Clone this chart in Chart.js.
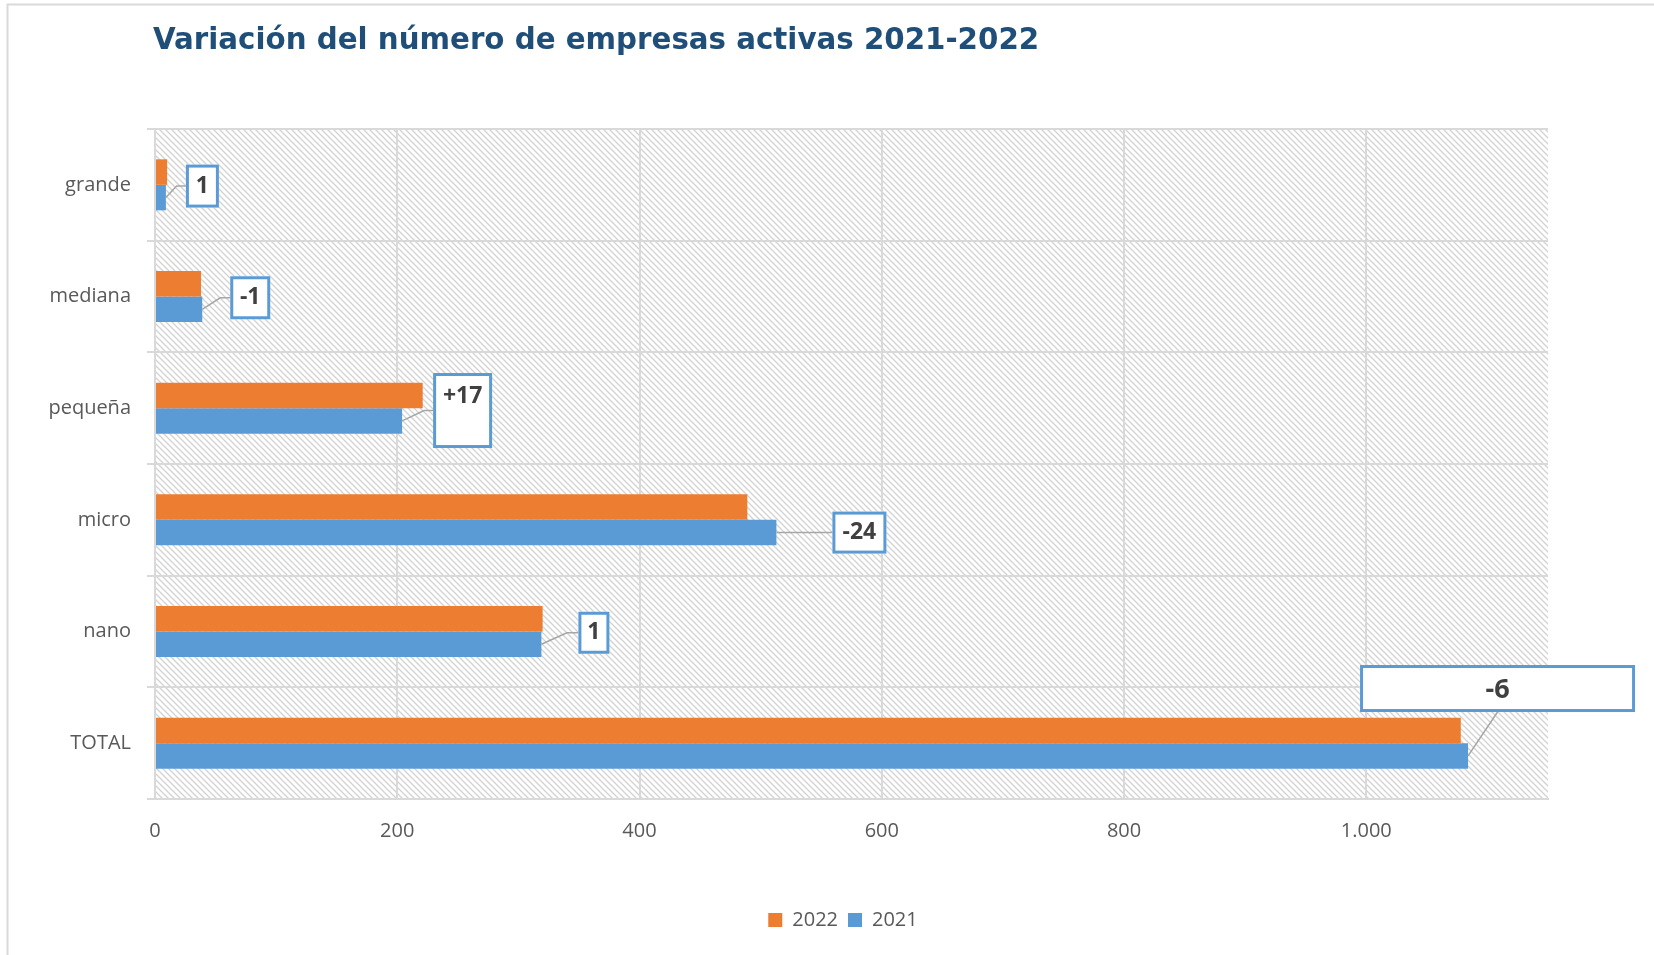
<!DOCTYPE html>
<html><head><meta charset="utf-8">
<script src="https://cdn.jsdelivr.net/npm/chart.js@4"></script>
<style>html,body{margin:0;padding:0;background:#fff}#wrap{width:1654px;height:955px;position:relative}canvas{display:block}</style>
</head><body><div id="wrap"><canvas id="c" width="1654" height="955"></canvas></div>
<script>
const categories = ['grande','mediana','pequeña','micro','nano','TOTAL'];
const values2022 = [10,38,221,489,320,1078];
const values2021 = [9,39,204,513,319,1084];
const changeLabels = ['1','-1','+17','-24','1','-6'];
const xTicks = [0,200,400,600,800,1000];
const xMax = 1150;
const titleText = 'Variación del número de empresas activas 2021-2022';

// annotation box layout relative to the end of the 2021 bar
const labelLayout = [
  {bx:20, cy:-11.5, w:33, h:43, ty:0, size:23, kink:[10.7,-11.5]},
  {bx:28, cy:-11.5, w:40, h:43, ty:0, size:23, kink:[18,-11.5]},
  {bx:31, cy:-10.4, w:59, h:75, ty:-14.5, size:23, kink:[22,-10.4]},
  {bx:56, cy:0, w:54, h:42, ty:0, size:23, kink:null},
  {bx:37, cy:-11.5, w:31, h:42, ty:0, size:23, kink:[25.5,-11.5]},
  {bx:-108, cy:-67.4, w:275, h:47, ty:2, size:27, bottomAnchor:29.5}
];

function makePattern(){
  const p = document.createElement('canvas');
  p.width = 6; p.height = 6;
  const g = p.getContext('2d');
  g.fillStyle = '#ffffff'; g.fillRect(0,0,6,6);
  g.strokeStyle = '#d2d2d2'; g.lineWidth = 1.3;
  g.beginPath();
  g.moveTo(-1,-1); g.lineTo(7,7);
  g.moveTo(-1,5); g.lineTo(1,7);
  g.moveTo(5,-1); g.lineTo(7,1);
  g.stroke();
  return p;
}

const bgPlugin = {
  id:'bg',
  afterLayout(chart){
    if (chart.legend) { chart.legend.left -= 8.5; chart.legend.right -= 8.5; }
  },
  beforeDraw(chart){
    const ctx = chart.ctx, a = chart.chartArea;
    ctx.save();
    ctx.fillStyle = '#fff'; ctx.fillRect(0,0,chart.width,chart.height);
    ctx.fillStyle = ctx.createPattern(makePattern(),'repeat');
    ctx.fillRect(a.left,a.top,a.right-a.left,a.bottom-a.top);
    // outer frame
    ctx.strokeStyle = '#d9d9d9'; ctx.lineWidth = 2;
    ctx.beginPath(); ctx.moveTo(7.5,955); ctx.lineTo(7.5,4.5); ctx.lineTo(1654,4.5); ctx.stroke();
    // title
    ctx.fillStyle = '#1F4E79';
    ctx.font = 'bold 29.3px "DejaVu Sans", Verdana, sans-serif';
    ctx.textAlign = 'left'; ctx.textBaseline = 'alphabetic';
    ctx.fillText(titleText, 153, 49);
    ctx.restore();
  }
};

const labelPlugin = {
  id:'changeLabels',
  afterDatasetsDraw(chart){
    const ctx = chart.ctx;
    const meta = chart.getDatasetMeta(1);
    ctx.save();
    meta.data.forEach((bar,i)=>{
      const L = labelLayout[i];
      const x0 = bar.x, y0 = bar.y;
      const left = x0 + L.bx, cyy = y0 + L.cy;
      const top = cyy - L.h/2;
      ctx.strokeStyle = '#a6a6a6'; ctx.lineWidth = 1.5;
      ctx.beginPath();
      ctx.moveTo(x0, y0);
      if (L.bottomAnchor !== undefined) {
        ctx.lineTo(x0 + L.bottomAnchor, top + L.h);
      } else if (L.kink) {
        ctx.lineTo(x0 + L.kink[0], y0 + L.kink[1]);
        ctx.lineTo(left, y0 + L.kink[1]);
      } else {
        ctx.lineTo(left, y0);
      }
      ctx.stroke();
      ctx.fillStyle = '#ffffff';
      ctx.fillRect(left, top, L.w, L.h);
      ctx.strokeStyle = '#5B9BD5'; ctx.lineWidth = 3;
      ctx.strokeRect(left+1.5, top+1.5, L.w-3, L.h-3);
      ctx.fillStyle = '#404040';
      ctx.font = 'bold ' + L.size + 'px "Open Sans", sans-serif';
      ctx.textAlign = 'center'; ctx.textBaseline = 'middle';
      ctx.fillText(changeLabels[i], left + L.w/2, cyy + L.ty);
    });
    ctx.restore();
  }
};

const fmt = v => String(v).replace(/\B(?=(\d{3})+(?!\d))/g, '.');

new Chart(document.getElementById('c'), {
  type:'bar',
  data:{
    labels: categories,
    datasets:[
      {label:'2022', data: values2022, backgroundColor:'#ED7D31', categoryPercentage:0.457, barPercentage:1},
      {label:'2021', data: values2021, backgroundColor:'#5B9BD5', categoryPercentage:0.457, barPercentage:1}
    ]
  },
  options:{
    indexAxis:'y',
    responsive:false,
    animation:false,
    devicePixelRatio:1,
    layout:{padding:{top:129, right:106, bottom:15, left:20}},
    scales:{
      x:{
        type:'linear', min:0, max:xMax,
        afterBuildTicks(axis){ axis.ticks = xTicks.map(v=>({value:v})); },
        afterFit(axis){ axis.height = 101; },
        grid:{color:'#d9d9d9', lineWidth:2, drawTicks:false},
        border:{display:true, color:'#d9d9d9', width:2},
        ticks:{autoSkip:false, maxRotation:0, padding:20, color:'#595959', font:{family:'"Open Sans", sans-serif', size:20}, callback:(v)=>fmt(v)}
      },
      y:{
        type:'category',
        afterFit(axis){ axis.width = 135; },
        grid:{offset:true, color:'#d9d9d9', lineWidth:2, tickLength:8, drawTicks:true},
        border:{display:true, color:'#d9d9d9', width:2},
        ticks:{padding:16, color:'#595959', font:{family:'"Open Sans", sans-serif', size:20}}
      }
    },
    plugins:{
      legend:{
        position:'bottom', fullSize:false,
        labels:{boxWidth:14, boxHeight:14, padding:10, color:'#595959', font:{family:'"Open Sans", sans-serif', size:20}}
      },
      title:{display:false},
      tooltip:{enabled:false}
    }
  },
  plugins:[bgPlugin, labelPlugin]
});
</script>
</body></html>
